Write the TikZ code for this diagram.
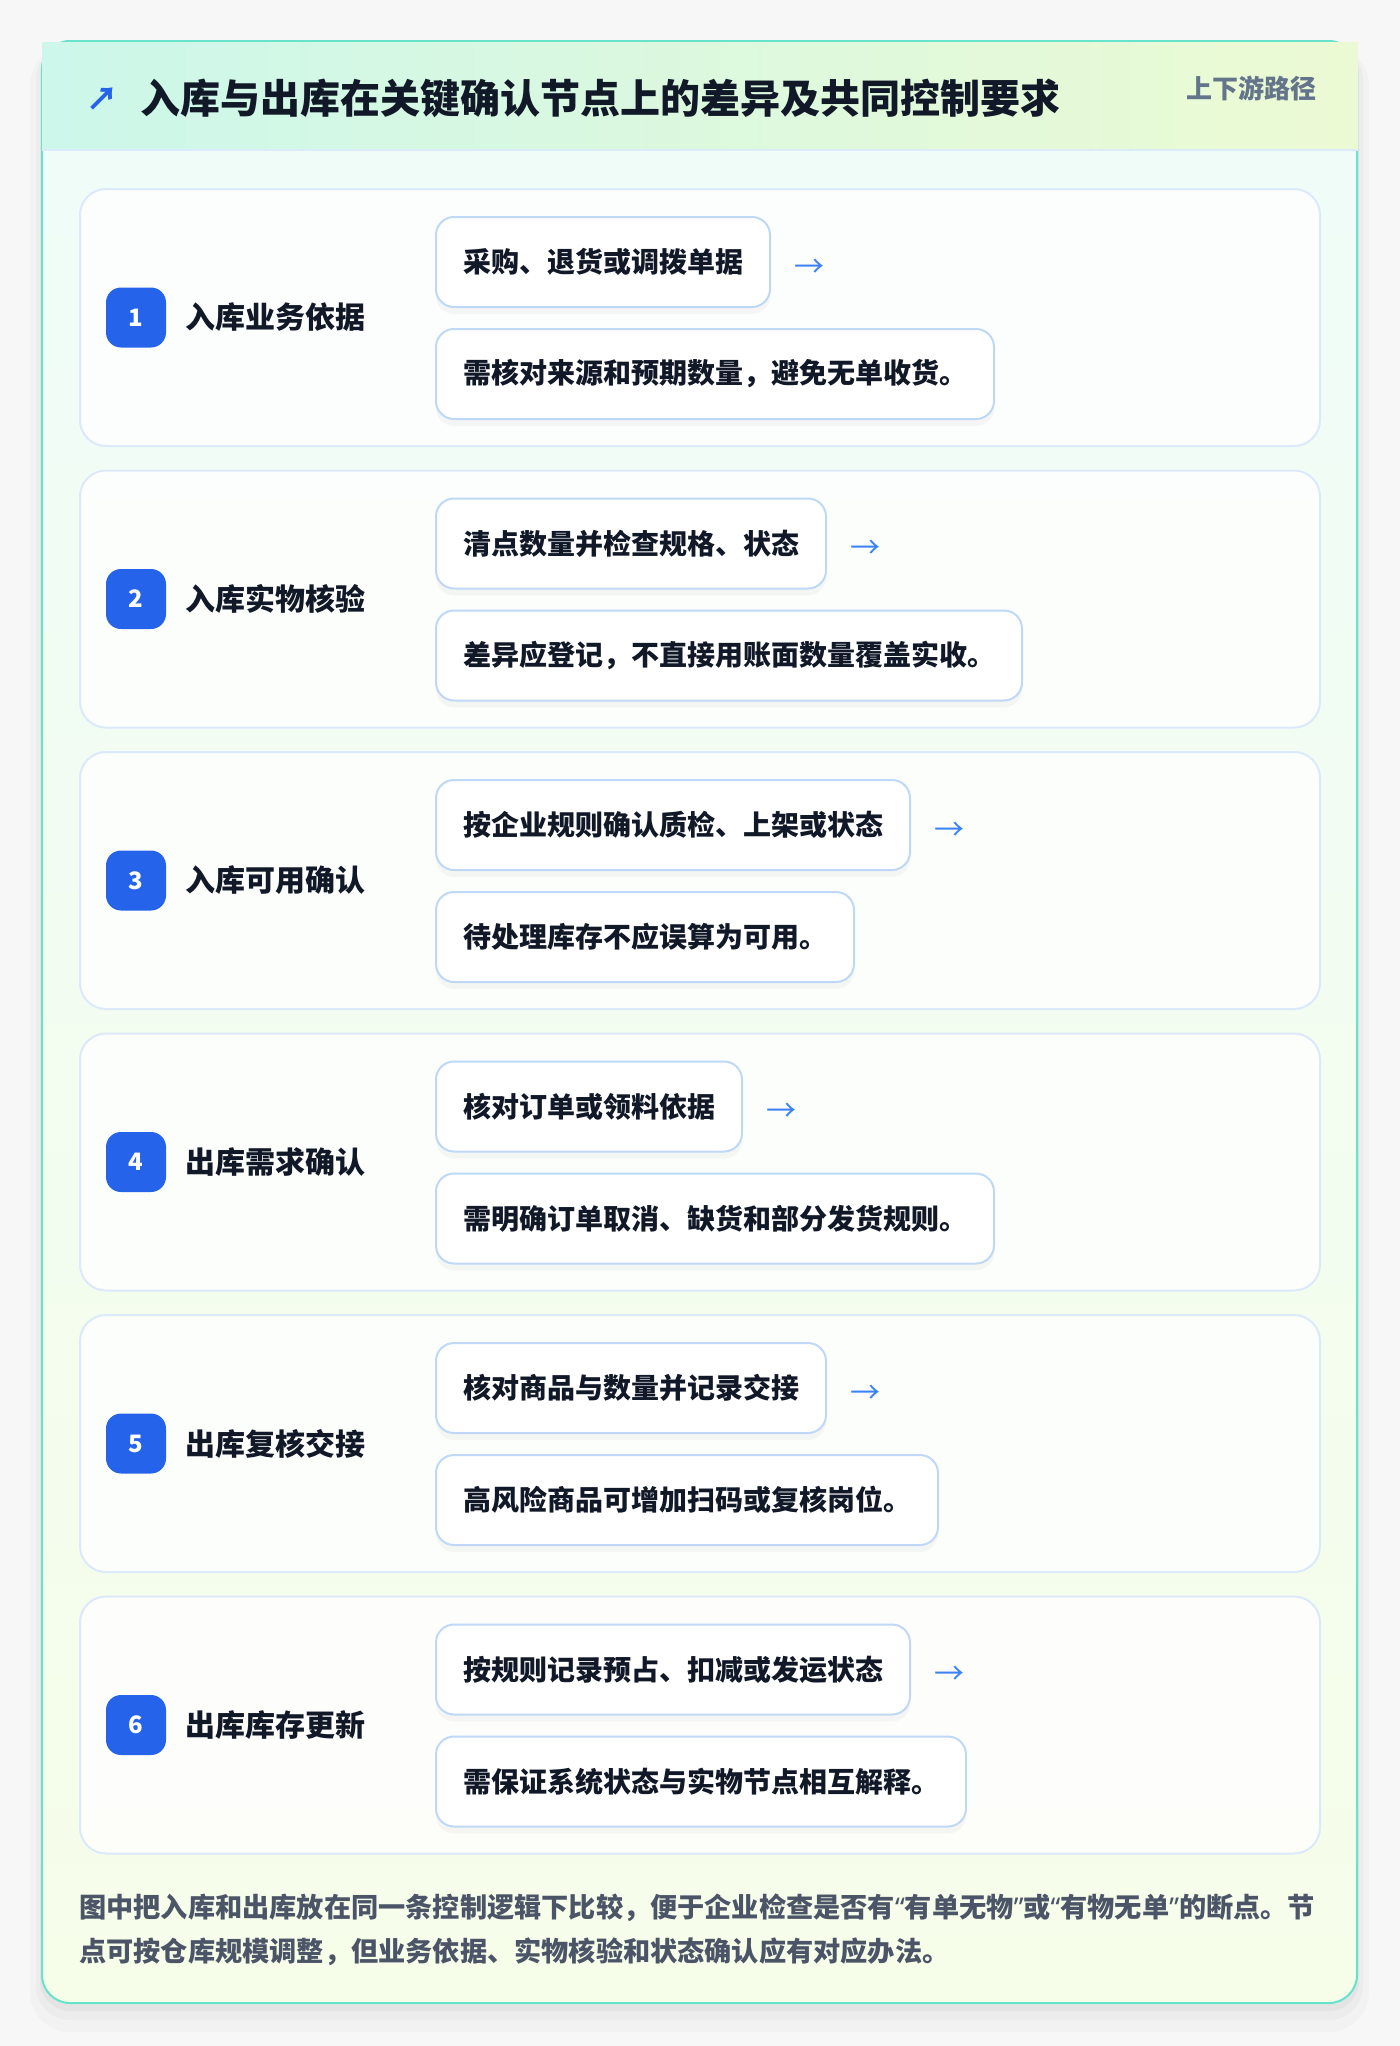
\documentclass[tikz,border=0pt]{standalone}
\usepackage{fontspec}
\setmainfont{Noto Sans CJK SC}
\newfontfamily\heavyfont{Noto Sans CJK SC Black}
\newfontfamily\quotefont{Noto Sans}
\usepackage{xcolor}
\usetikzlibrary{calc, positioning, shadows}

\definecolor{bgc}{HTML}{F7F7F8}
\definecolor{panelline}{HTML}{67E3CC}
\definecolor{hdl}{HTML}{CCF7EA}
\definecolor{hdr}{HTML}{ECFAD3}
\definecolor{hdline}{HTML}{DCEBFA}
\definecolor{bodytop}{HTML}{EFFCF8}
\definecolor{bodybot}{HTML}{F6FDE9}
\definecolor{cardline}{HTML}{DCE9FB}
\definecolor{boxline}{HTML}{BFD8F7}
\definecolor{badgeblue}{HTML}{2563EB}
\definecolor{arrowblue}{HTML}{3B82F6}
\definecolor{ink}{HTML}{111827}
\definecolor{slate}{HTML}{64748B}
\definecolor{footgray}{HTML}{4B5567}

\newcommand{\qtxt}[1]{{\quotefont\bfseries “}#1{\quotefont\bfseries ”}}

\tikzset{
  card/.style={draw=cardline, line width=2pt, fill=white, fill opacity=.8,
    rounded corners=26pt, minimum width=1240pt, minimum height=257pt},
  badge/.style={fill=badgeblue, rounded corners=15pt, minimum size=60pt, inner sep=0pt,
    text=white, font=\fontsize{24}{24}\selectfont\heavyfont},
  lbl/.style={inner sep=0pt, text=ink, font=\fontsize{30}{30}\selectfont\bfseries},
  bx/.style={draw=boxline, line width=2pt, fill=white, rounded corners=18pt,
    minimum height=90pt, inner xsep=27pt, inner ysep=0pt, text=ink,
    font=\fontsize{28}{28}\selectfont\bfseries,
    drop shadow={opacity=.06, shadow xshift=0pt, shadow yshift=-7pt}},
  arr/.style={inner sep=0pt, text=arrowblue, font=\fontsize{30}{30}\selectfont}
}

\begin{document}
\begin{tikzpicture}[x=1pt, y=-1pt]
\fill[bgc] (0,0) rectangle (1400,2046);
\useasboundingbox (0,0) rectangle (1400,2046);

% panel + soft shadow
\fill[black, opacity=.02, rounded corners=40pt] (30,45) rectangle (1369,2032);
\fill[black, opacity=.025, rounded corners=34pt] (36,45) rectangle (1363,2020);
\fill[black, opacity=.03, rounded corners=30pt] (40,45) rectangle (1359,2011);
\draw[panelline, line width=2pt, top color=bodytop, bottom color=bodybot, rounded corners=28pt]
  (42,41) rectangle (1357,2003);

% header
\shade[left color=hdl, right color=hdr] (42,42) rectangle (1358,150);
\draw[hdline, line width=2pt] (42,150) -- (1358,150);
\node[inner sep=0pt, anchor=west, text=badgeblue, font=\fontsize{32}{32}\selectfont\bfseries] (ic) at (86,99) {↗};
\node[inner sep=0pt, anchor=west, text=ink, font=\fontsize{40}{40}\selectfont\heavyfont] (ttl)
  at (140,98) {入库与出库在关键确认节点上的差异及共同控制要求};
\node[inner sep=0pt, anchor=east, text=slate, font=\fontsize{26}{26}\selectfont\bfseries] (tag)
  at (1317,88) {上下游路径};

% 1
\node[card] (c1) at (700,317.5) {};
\node[badge] (n1) at ($(c1.west)+(57,0)$) {1};
\node[lbl, right=19pt of n1] (l1) {入库业务依据};
\node[bx, anchor=west] (t1) at ($(c1.west)+(356,-55.5)$) {采购、退货或调拨单据};
\node[bx, below right=20pt and 0pt of t1.south west] (d1) {需核对来源和预期数量，避免无单收货。};
\node[arr, right=23pt of t1, yshift=-6pt] (a1) {→};

% 2
\node[card] (c2) at (700,599) {};
\node[badge] (n2) at ($(c2.west)+(57,0)$) {2};
\node[lbl, right=19pt of n2] (l2) {入库实物核验};
\node[bx, anchor=west] (t2) at ($(c2.west)+(356,-55.5)$) {清点数量并检查规格、状态};
\node[bx, below right=20pt and 0pt of t2.south west] (d2) {差异应登记，不直接用账面数量覆盖实收。};
\node[arr, right=23pt of t2, yshift=-6pt] (a2) {→};

% 3
\node[card] (c3) at (700,880.5) {};
\node[badge] (n3) at ($(c3.west)+(57,0)$) {3};
\node[lbl, right=19pt of n3] (l3) {入库可用确认};
\node[bx, anchor=west] (t3) at ($(c3.west)+(356,-55.5)$) {按企业规则确认质检、上架或状态};
\node[bx, below right=20pt and 0pt of t3.south west] (d3) {待处理库存不应误算为可用。};
\node[arr, right=23pt of t3, yshift=-6pt] (a3) {→};

% 4
\node[card] (c4) at (700,1162) {};
\node[badge] (n4) at ($(c4.west)+(57,0)$) {4};
\node[lbl, right=19pt of n4] (l4) {出库需求确认};
\node[bx, anchor=west] (t4) at ($(c4.west)+(356,-55.5)$) {核对订单或领料依据};
\node[bx, below right=20pt and 0pt of t4.south west] (d4) {需明确订单取消、缺货和部分发货规则。};
\node[arr, right=23pt of t4, yshift=-6pt] (a4) {→};

% 5
\node[card] (c5) at (700,1443.5) {};
\node[badge] (n5) at ($(c5.west)+(57,0)$) {5};
\node[lbl, right=19pt of n5] (l5) {出库复核交接};
\node[bx, anchor=west] (t5) at ($(c5.west)+(356,-55.5)$) {核对商品与数量并记录交接};
\node[bx, below right=20pt and 0pt of t5.south west] (d5) {高风险商品可增加扫码或复核岗位。};
\node[arr, right=23pt of t5, yshift=-6pt] (a5) {→};

% 6
\node[card] (c6) at (700,1725) {};
\node[badge] (n6) at ($(c6.west)+(57,0)$) {6};
\node[lbl, right=19pt of n6] (l6) {出库库存更新};
\node[bx, anchor=west] (t6) at ($(c6.west)+(356,-55.5)$) {按规则记录预占、扣减或发运状态};
\node[bx, below right=20pt and 0pt of t6.south west] (d6) {需保证系统状态与实物节点相互解释。};
\node[arr, right=23pt of t6, yshift=-6pt] (a6) {→};
%\node[draw, red, circle, inner sep=1pt] at (c6.center){};

% footer note
\node[inner sep=0pt, anchor=north west, align=left, text=footgray,
  font=\fontsize{27.2}{44}\selectfont\bfseries] (ft) at (79,1894)
  {图中把入库和出库放在同一条控制逻辑下比较，便于企业检查是否有\qtxt{有单无物}或\qtxt{有物无单}的断点。节\\
   点可按仓库规模调整，但业务依据、实物核验和状态确认应有对应办法。};
\end{tikzpicture}
\end{document}
